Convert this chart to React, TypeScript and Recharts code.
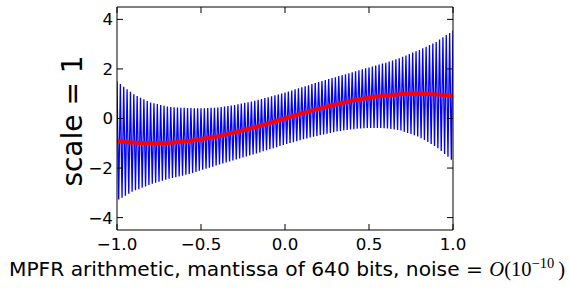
import React from 'react';
import { LineChart, Line, XAxis, YAxis } from 'recharts';

// Blue (noisy) series sampled at x = -1.00, -0.99, ..., 1.00
const blueValues = [
  1.49, -3.27, 1.39, -3.20, 1.28, -3.12, 1.18, -3.04, 1.08, -2.96,
  0.98, -2.90, 0.91, -2.85, 0.84, -2.79, 0.78, -2.74, 0.71, -2.68,
  0.65, -2.63, 0.61, -2.59, 0.58, -2.55, 0.54, -2.51, 0.51, -2.47,
  0.48, -2.43, 0.46, -2.40, 0.45, -2.37, 0.44, -2.34, 0.43, -2.31,
  0.43, -2.27, 0.42, -2.24, 0.42, -2.20, 0.41, -2.16, 0.41, -2.11,
  0.41, -2.07, 0.41, -2.03, 0.42, -1.99, 0.43, -1.95, 0.43, -1.90,
  0.44, -1.86, 0.46, -1.82, 0.48, -1.77, 0.50, -1.73, 0.52, -1.69,
  0.54, -1.65, 0.57, -1.61, 0.60, -1.57, 0.63, -1.53, 0.66, -1.49,
  0.69, -1.45, 0.72, -1.41, 0.76, -1.37, 0.79, -1.32, 0.83, -1.28,
  0.86, -1.24, 0.90, -1.20, 0.94, -1.16, 0.97, -1.11, 1.01, -1.07,
  1.05, -1.03, 1.09, -0.99, 1.13, -0.96, 1.18, -0.92, 1.22, -0.88,
  1.26, -0.84, 1.30, -0.81, 1.34, -0.77, 1.39, -0.74, 1.43, -0.71,
  1.47, -0.67, 1.51, -0.64, 1.55, -0.61, 1.59, -0.58, 1.63, -0.55,
  1.66, -0.52, 1.71, -0.50, 1.75, -0.48, 1.79, -0.46, 1.83, -0.44,
  1.87, -0.43, 1.91, -0.41, 1.95, -0.40, 1.99, -0.39, 2.03, -0.38,
  2.06, -0.38, 2.10, -0.38, 2.14, -0.38, 2.18, -0.38, 2.22, -0.39,
  2.25, -0.40, 2.30, -0.42, 2.34, -0.44, 2.39, -0.46, 2.43, -0.48,
  2.49, -0.54, 2.54, -0.58, 2.60, -0.63, 2.66, -0.68, 2.71, -0.73,
  2.76, -0.80, 2.83, -0.87, 2.90, -0.95, 2.97, -1.03, 3.03, -1.11,
  3.09, -1.20, 3.19, -1.31, 3.28, -1.43, 3.37, -1.54, 3.45, -1.66,
  3.54,
];

// Red (smooth) series sampled at x = -1.00, -0.95, ..., 1.00
const redValues = [
  -0.91, -0.95, -0.97, -0.99, -1.0, -1.0, -0.99, -0.96, -0.93, -0.89,
  -0.84, -0.78, -0.72, -0.64, -0.56, -0.48, -0.39, -0.3, -0.2, -0.1,
  0.0,
  0.1, 0.2, 0.3, 0.39, 0.48, 0.56, 0.64, 0.72, 0.78, 0.84,
  0.89, 0.93, 0.96, 0.99, 1.0, 1.0, 0.99, 0.97, 0.95, 0.91,
];

const xTicks = [-1, -0.5, 0, 0.5, 1];
const yTicks = [-4, -2, 0, 2, 4];

const blueData = blueValues.map((y, i) => ({ x: Math.round(-100 + i) / 100, y }));
const redData = redValues.map((y, i) => ({ x: Math.round(-100 + i * 5) / 100, y }));

const fmtX = (v: number) => (v < 0 ? '\u2212' : '') + Math.abs(v).toFixed(1);
const fmtY = (v: number) => (v < 0 ? '\u2212' : '') + Math.abs(v).toString();
const blank = () => '';

const tickStyle = { fontFamily: 'DejaVu Sans', fontSize: 16.7, fill: '#000' };

export default function App() {
  return (
    <div style={{ position: 'absolute', left: 0, top: 0, width: 569, height: 292, background: '#fff' }}>
      <LineChart
        width={569}
        height={292}
        margin={{ top: 6, right: 115, left: 87, bottom: 32 }}
      >
        <XAxis
          xAxisId="b"
          dataKey="x"
          type="number"
          domain={[-1, 1]}
          ticks={xTicks}
          tickFormatter={fmtX}
          allowDataOverflow
          height={30}
          tickSize={-6}
          tickMargin={14}
          tick={tickStyle}
          stroke="#000"
          axisLine={{ stroke: '#000', strokeWidth: 1 }}
          tickLine={{ stroke: '#000', strokeWidth: 1 }}
        />
        <XAxis
          xAxisId="t"
          orientation="top"
          dataKey="x"
          type="number"
          domain={[-1, 1]}
          ticks={xTicks}
          tickFormatter={blank}
          allowDataOverflow
          height={1}
          tickSize={-6}
          tick={tickStyle}
          stroke="#000"
          axisLine={{ stroke: '#000', strokeWidth: 1 }}
          tickLine={{ stroke: '#000', strokeWidth: 1 }}
        />
        <YAxis
          yAxisId="l"
          type="number"
          domain={[-4.5, 4.5]}
          ticks={yTicks}
          tickFormatter={fmtY}
          allowDataOverflow
          width={30}
          tickSize={-6}
          tickMargin={10}
          tick={tickStyle}
          stroke="#000"
          axisLine={{ stroke: '#000', strokeWidth: 1 }}
          tickLine={{ stroke: '#000', strokeWidth: 1 }}
        />
        <YAxis
          yAxisId="r"
          orientation="right"
          type="number"
          domain={[-4.5, 4.5]}
          ticks={yTicks}
          tickFormatter={blank}
          allowDataOverflow
          width={1}
          tickSize={-6}
          tick={tickStyle}
          stroke="#000"
          axisLine={{ stroke: '#000', strokeWidth: 1 }}
          tickLine={{ stroke: '#000', strokeWidth: 1 }}
        />
        <Line
          xAxisId="b"
          yAxisId="l"
          data={blueData}
          dataKey="y"
          type="linear"
          stroke="#0000ff"
          strokeWidth={1.3}
          dot={false}
          activeDot={false}
          isAnimationActive={false}
        />
        <Line
          xAxisId="b"
          yAxisId="l"
          data={redData}
          dataKey="y"
          type="monotone"
          stroke="#ff0000"
          strokeWidth={4}
          dot={false}
          activeDot={false}
          isAnimationActive={false}
        />
      </LineChart>
      <svg
        width={569}
        height={292}
        style={{ position: 'absolute', left: 0, top: 0, pointerEvents: 'none' }}
      >
        <text
          x={0}
          y={0}
          transform="translate(81.5,121) rotate(-90)"
          textAnchor="middle"
          fontFamily="DejaVu Sans"
          fontSize={28}
          fill="#000"
        >
          scale = 1
        </text>
        <text x={9} y={276} fontFamily="DejaVu Sans" fontSize={20.2} fill="#000">
          MPFR arithmetic, mantissa of 640 bits, noise ={' '}
          <tspan fontFamily="Liberation Serif" fontStyle="italic" fontSize={20.5}>O</tspan>
          <tspan fontFamily="Liberation Serif" fontSize={20.5}>(10</tspan>
          <tspan fontFamily="Liberation Serif" fontSize={14.5} dy={-8}>{'\u221210'}</tspan>
          <tspan fontFamily="Liberation Serif" fontSize={20.5} dy={8}>{'\u2009)'}</tspan>
        </text>
      </svg>
    </div>
  );
}
